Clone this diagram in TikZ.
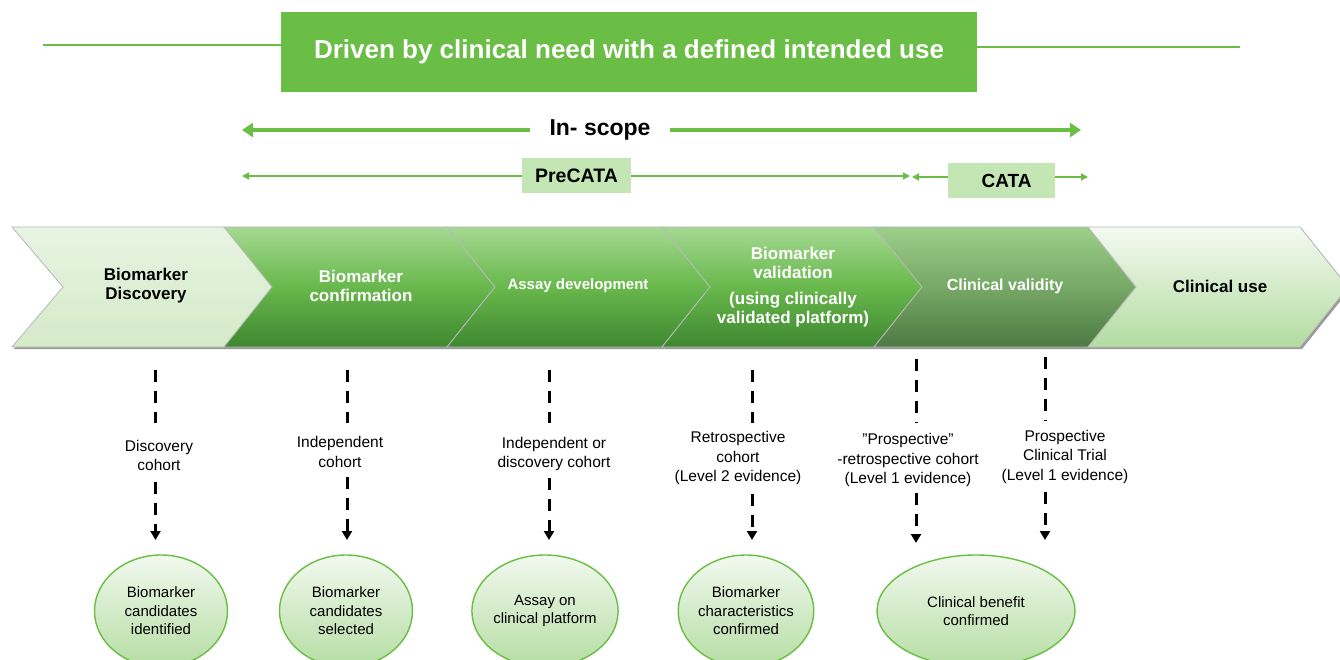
\documentclass[tikz,border=0pt]{standalone}
\usepackage{fontspec}
\setmainfont{Liberation Sans}
\usetikzlibrary{arrows.meta,shapes.geometric}
\definecolor{bgreen}{HTML}{6ABD45}
\definecolor{lbox}{HTML}{C4E5B4}
\definecolor{gtop}{HTML}{A5D992}
\definecolor{gmid}{HTML}{68B84C}
\definecolor{gbot}{HTML}{3E8730}
\definecolor{dtop}{HTML}{9CCF88}
\definecolor{dmid}{HTML}{76A866}
\definecolor{dbot}{HTML}{4D7A43}
\definecolor{ltop}{HTML}{E8F4E2}
\definecolor{lbot}{HTML}{D4EAC8}
\definecolor{ctop}{HTML}{F4FAF1}
\definecolor{cbot}{HTML}{B2DCA0}
\definecolor{etop}{HTML}{F2F9EF}
\definecolor{ebot}{HTML}{B5DDA3}
\newcommand\chevpath[3]{(#1,227) -- ++(#2,0) -- ++(#3,60) -- ++(-#3,60) -- ++(-#2,0) -- ++(#3,-60) -- cycle}
\tikzset{
  chevshadow/.style={fill=black!40},
  chevbody/.style={draw=gray!55, line width=0.8pt},
  lightchev/.style={chevbody, top color=ltop, bottom color=lbot},
  greenchev/.style={chevbody, top color=gtop, bottom color=gbot, middle color=gmid},
  darkchev/.style={chevbody, top color=dtop, bottom color=dbot, middle color=dmid},
  usechev/.style={chevbody, top color=ctop, bottom color=cbot},
  chevtext/.style={align=center, inner sep=0pt, font=\fontsize{17}{19}\selectfont\bfseries},
  smalltext/.style={align=center, inner sep=0pt, font=\fontsize{15.5}{19.5}\selectfont},
  ell/.style={ellipse, draw=bgreen, line width=1.4pt, top color=etop, bottom color=ebot,
     minimum height=112pt, align=center, inner sep=0pt, font=\fontsize{15}{18.5}\selectfont},
  dasharrow/.style={line width=3pt, dash pattern=on 12pt off 9pt},
  dashtip/.style={dasharrow, -{Triangle[width=10pt,length=9pt]}},
  bigarrow/.style={draw=bgreen, line width=4.5pt, -{Triangle[width=14pt,length=11pt]}},
  thinarrow/.style={draw=bgreen, line width=1.5pt, -{Triangle[width=7pt,length=7pt]}},
  bannerline/.style={draw=bgreen, line width=2pt},
  labbox/.style={fill=lbox, inner sep=0pt, font=\fontsize{19.5}{22}\selectfont\bfseries}
}
\begin{document}
\begin{tikzpicture}[x=1pt,y=-1pt]
\useasboundingbox[fill=white] (0,0) rectangle (1340,660);

% banner
\node[fill=bgreen, text=white, minimum width=696pt, minimum height=80pt, inner sep=0pt,
      font=\fontsize{26}{28}\selectfont\bfseries] (banner) at (629,52)
      {Driven by clinical need with a defined intended use};
\coordinate (bl) at (43,45);
\coordinate (br) at (1240,47);
\draw[bannerline] (bl) -- (bl -| banner.west);
\draw[bannerline] (br -| banner.east) -- (br);

% in-scope
\node[font=\fontsize{23}{25}\selectfont\bfseries, inner ysep=0pt, inner xsep=0pt,
      minimum width=139pt] (inscope) at (600,130) {In- scope};
\coordinate (isl) at (242,130);
\coordinate (isr) at (1081,130);
\draw[bigarrow] (inscope.west) -- (isl);
\draw[bigarrow] (inscope.east) -- (isr);

% PreCATA / CATA
\node[labbox, minimum width=109pt, minimum height=35pt] (precata) at (576.5,176) {PreCATA};
\coordinate (pl) at (242,176);
\coordinate (pr) at (910,176);
\draw[thinarrow] (precata.west) -- (pl);
\draw[thinarrow] (precata.east) -- (pr);
\node[labbox, minimum width=107pt, minimum height=35pt, text width=107pt, align=center,
      font=\fontsize{19}{22}\selectfont\bfseries] (cata) at (1001.5,180.5) {\hspace*{10pt}CATA};
\coordinate (cl) at (912,177);
\coordinate (cr) at (1088,177);
\draw[thinarrow] (cata.west |- cl) -- (cl);
\draw[thinarrow] (cata.east |- cr) -- (cr);

% chevrons
\fill[chevshadow, shift={(2,2)}] \chevpath{12}{212}{51};
\path[lightchev] \chevpath{12}{212}{51};
\fill[chevshadow, shift={(2,2)}] \chevpath{224}{223}{48};
\path[greenchev] \chevpath{224}{223}{48};
\fill[chevshadow, shift={(2,2)}] \chevpath{447}{215}{48};
\path[greenchev] \chevpath{447}{215}{48};
\fill[chevshadow, shift={(2,2)}] \chevpath{662}{212}{48};
\path[greenchev] \chevpath{662}{212}{48};
\fill[chevshadow, shift={(2,2)}] \chevpath{874}{214}{48};
\path[darkchev] \chevpath{874}{214}{48};
\fill[chevshadow, shift={(2,2)}] \chevpath{1088}{212}{48};
\path[usechev] \chevpath{1088}{212}{48};

\node[chevtext, text=black] (c1) at (146,286) {Biomarker\\Discovery};
\node[chevtext, text=white] (c2) at (361,286) {Biomarker\\confirmation};
\node[chevtext, text=white, font=\fontsize{15}{18}\selectfont\bfseries] (c3) at (578,286) {Assay development};
\node[chevtext, text=white] (c4a) at (793,263) {Biomarker\\validation};
\node[chevtext, text=white] (c4b) at (793,309.5) {(using clinically\\validated platform)};
\node[chevtext, text=white, font=\fontsize{16}{18}\selectfont\bfseries] (c5) at (1005,286) {Clinical validity};
\node[chevtext, text=black] (c6) at (1220,286) {Clinical use};

% labels
\node[smalltext] (l1) at (159,455.5) {Discovery\\cohort};
\node[smalltext] (l2) at (340,452) {Independent\\cohort};
\node[smalltext] (l3) at (554,454) {Independent or\\discovery cohort};
\node[smalltext] (l4) at (738,458) {Retrospective\\cohort\\(Level 2 evidence)};
\node[smalltext] (l5) at (908,460) {\char"22 Prospective”\\-retrospective cohort\\(Level 1 evidence)};
\node[smalltext] (l6) at (1065,456.5) {Prospective\\Clinical Trial\\(Level 1 evidence)};

% ellipses
\node[ell, minimum width=133pt] (e1) at (161,611) {Biomarker\\candidates\\identified};
\node[ell, minimum width=133pt] (e2) at (346,611) {Biomarker\\candidates\\selected};
\node[ell, minimum width=133pt] (e3) at (545,611) {Assay on\\clinical platform};
\node[ell, minimum width=133pt] (e4) at (746,611) {Biomarker\\characteristics\\confirmed};
\node[ell, minimum width=198pt] (e5) at (976,611) {Clinical benefit\\confirmed};

% dashed arrows
\foreach \n/\x/\ta/\tb/\ua/\ub in {1/155.5/370/423/482/540, 2/347/370/423/477/540,
   3/549/370/423/478/540, 4/752/370/423/494/540, 5/916/359/423/493/543, 6/1045/357/421/492/540}{
  \coordinate (t\n) at (\x,\ta);
  \coordinate (u\n) at (\x,\tb);
  \coordinate (v\n) at (\x,\ua);
  \coordinate (w\n) at (\x,\ub);
  \draw[dasharrow] (t\n) -- (u\n);
  \draw[dashtip] (v\n) -- (w\n);
}
\end{tikzpicture}
\end{document}
